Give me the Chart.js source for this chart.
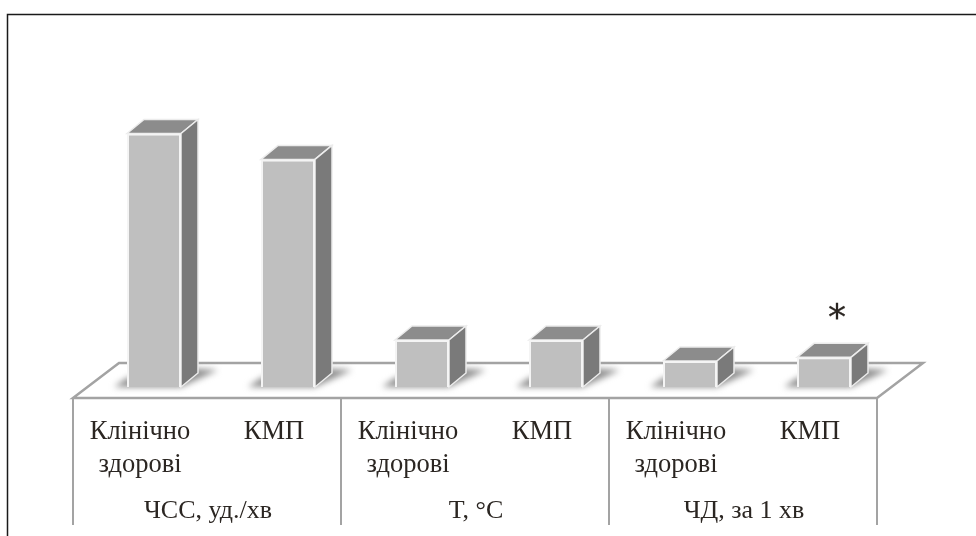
<!DOCTYPE html>
<html>
<head>
<meta charset="utf-8">
<script src="https://cdn.jsdelivr.net/npm/chart.js@4"></script>
<style>
  html, body { margin: 0; padding: 0; background: #fff; overflow: hidden; }
  canvas { display: block; }
</style>
</head>
<body>
<canvas id="chart" width="976" height="536"></canvas>
<script>
// --- Data ---
const groups = [['Клінічно', 'здорові'], 'КМП', ['Клінічно', 'здорові'], 'КМП', ['Клінічно', 'здорові'], 'КМП'];
const indicators = ['ЧСС, уд./хв', 'T, °C', 'ЧД, за 1 хв'];
const values = [205, 184, 38, 38, 21, 24];
const marks = ['', '', '', '', '', '*'];

// --- Look ---
const serif = '"Liberation Serif", serif';
const inkColor = '#2b2622';
const lineColor = '#a3a3a3';
const depthX = 17, depthY = -14;   // how far the box tops and sides recede

function poly(ctx, pts) {
  ctx.beginPath();
  pts.forEach((p, i) => i ? ctx.lineTo(p[0], p[1]) : ctx.moveTo(p[0], p[1]));
  ctx.closePath();
}

// floor, soft shadows and the top/side faces behind each bar
const boxes = {
  id: 'boxes',
  beforeDatasetsDraw(chart) {
    const ctx = chart.ctx;
    const base = chart.chartArea.bottom;
    const front = base + 11, back = base - 24;
    const x = chart.scales.x;
    const left = x.left - 14, right = x.right - 14;

    ctx.save();
    ctx.strokeStyle = lineColor;
    ctx.lineWidth = 2.5;
    poly(ctx, [[left, front], [left + 46, back], [right + 46, back], [right, front]]);
    ctx.stroke();

    chart.getDatasetMeta(0).data.forEach(bar => {
      const l = bar.x - bar.width / 2, r = bar.x + bar.width / 2;
      ctx.save();
      ctx.filter = 'blur(3px)';
      ctx.fillStyle = '#8e8e8e';
      poly(ctx, [[l - 13, base], [r, base], [r + 37, base - 17], [r, base - 19], [l, base - 9]]);
      ctx.fill();
      ctx.restore();

      ctx.strokeStyle = '#ececec';
      ctx.lineWidth = 1.5;
      ctx.fillStyle = '#8c8c8c';
      poly(ctx, [[l, bar.y], [l + depthX, bar.y + depthY], [r + depthX, bar.y + depthY], [r, bar.y]]);
      ctx.fill();
      ctx.stroke();
      ctx.fillStyle = '#7a7a7a';
      poly(ctx, [[r, bar.y], [r + depthX, bar.y + depthY], [r + depthX, base + depthY], [r, base]]);
      ctx.fill();
      ctx.stroke();
    });
    ctx.restore();
  },
  afterDraw(chart) {
    const ctx = chart.ctx;
    const x = chart.scales.x;
    const top = chart.chartArea.bottom + 11;
    ctx.save();

    // group dividers under the floor
    ctx.strokeStyle = lineColor;
    ctx.lineWidth = 2;
    for (let i = 0; i <= indicators.length; i++) {
      const px = x.left - 14 + i * (x.right - x.left) / indicators.length;
      ctx.beginPath();
      ctx.moveTo(px, top);
      ctx.lineTo(px, 525);
      ctx.stroke();
    }

    // significance marks above the bars
    ctx.fillStyle = inkColor;
    ctx.strokeStyle = inkColor;
    ctx.lineWidth = 0.3;
    ctx.font = '36px "DejaVu Sans", sans-serif';
    ctx.textAlign = 'center';
    chart.getDatasetMeta(0).data.forEach((bar, i) => {
      if (!marks[i]) return;
      ctx.fillText(marks[i], bar.x + 13, bar.y - 28);
      ctx.strokeText(marks[i], bar.x + 13, bar.y - 28);
    });

    // frame: top and left rules only
    ctx.strokeStyle = '#1a1a1a';
    ctx.lineWidth = 1.5;
    ctx.beginPath();
    ctx.moveTo(976, 14.5);
    ctx.lineTo(7.5, 14.5);
    ctx.lineTo(7.5, 536);
    ctx.stroke();
    ctx.restore();
  }
};

new Chart(document.getElementById('chart'), {
  type: 'bar',
  data: {
    labels: groups,
    datasets: [{
      data: values,
      backgroundColor: '#bfbfbf',
      borderColor: '#f4f4f4',
      borderWidth: 2,
      barPercentage: 0.403,
      categoryPercentage: 1
    }]
  },
  options: {
    responsive: false,
    animation: false,
    layout: { padding: { left: 87, right: 85, top: 16, bottom: 0 } },
    plugins: { legend: { display: false }, tooltip: { enabled: false } },
    scales: {
      y: { display: false, min: 0, max: 300 },
      x: {
        grid: { display: false },
        border: { display: false },
        afterFit: s => { s.height = 97; },
        ticks: {
          color: inkColor,
          padding: 21,
          labelOffset: -14,
          maxRotation: 0,
          autoSkip: false,
          font: { family: serif, size: 26.5, lineHeight: 1.245 }
        }
      },
      x2: {
        type: 'category',
        position: 'bottom',
        labels: indicators,
        grid: { display: false },
        border: { display: false },
        afterFit: s => { s.height = 52; },
        ticks: {
          color: inkColor,
          padding: 4,
          labelOffset: -13,
          maxRotation: 0,
          autoSkip: false,
          font: { family: serif, size: 26 }
        }
      }
    }
  },
  plugins: [boxes]
});
</script>
</body>
</html>
